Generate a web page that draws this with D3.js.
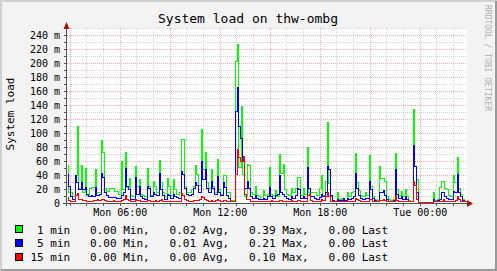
<!DOCTYPE html>
<html>
<head>
<meta charset="utf-8">
<script src="https://cdn.jsdelivr.net/npm/d3@7"></script>
<style>
  html, body { margin: 0; padding: 0; background: #f3f3f3; }
  svg { display: block; }
  text { font-family: "DejaVu Sans Mono", monospace; white-space: pre; }
</style>
</head>
<body>
<div id="chart"></div>
<script>
// system load, milli units, one value per 7.2 min bucket (24h)
const load1 = [
  53,14,15,8,39,109,20,53,14,48, 10,20,22,22,47,14,14,88,71,20,
  16,20,20,20,16,16,12,59,18,72, 21,34,10,8,52,23,33,12,10,8,
  48,23,10,30,23,14,60,28,15,8, 34,23,10,33,18,12,14,90,90,23,
  14,14,18,23,53,40,25,104,47,72, 28,20,47,23,15,62,18,12,39,38,
  15,14,3,3,202,226,50,137,40,8, 55,53,15,12,23,10,8,5,17,10,
  12,50,12,10,17,8,69,42,54,18, 12,10,20,14,20,35,35,10,20,12,
  79,15,15,15,15,10,20,38,10,30, 114,27,8,3,2,15,4,6,5,3,
  15,8,15,16,70,28,17,10,8,14, 10,67,23,8,4,3,52,34,34,30,
  8,4,3,5,70,18,10,16,8,18, 8,3,2,133,52,33,0,0,0,0,
  0,0,0,14,3,5,21,30,30,20, 18,10,8,38,28,64,20,12,4,2
];
const load5 = [
  40,23,8,5,39,28,18,28,18,22, 12,8,10,8,22,10,12,41,35,15,
  10,7,7,7,7,6,6,10,15,48, 23,19,5,4,35,12,23,8,6,5,
  23,20,8,15,12,10,42,18,10,5, 12,10,6,12,8,7,6,45,40,20,
  12,10,12,20,28,25,15,59,33,47, 20,15,30,20,12,37,15,10,28,22,
  10,6,2,2,130,164,109,92,59,20, 30,20,8,6,10,6,5,5,6,5,
  8,21,8,6,10,12,38,15,12,8, 6,5,8,6,10,20,18,6,8,6,
  50,20,8,8,6,5,7,12,8,15, 51,47,10,3,2,5,3,3,6,3,
  6,5,6,8,42,20,10,6,5,6, 6,30,18,6,3,2,14,14,17,10,
  4,2,2,3,47,12,6,8,5,8, 4,2,2,81,52,14,0,0,0,0,
  0,0,0,5,2,3,5,14,15,8, 6,5,4,16,14,40,15,8,3,2
];
const load15 = [
  7,3,2,2,10,13,5,4,3,3, 2,2,2,3,3,5,3,4,5,3,
  2,2,2,3,2,1,2,3,4,10, 4,3,2,2,4,3,3,2,2,2,
  3,3,2,2,3,2,3,4,2,2, 2,2,2,2,2,2,2,13,10,4,
  3,2,2,3,3,3,5,8,7,5, 3,2,3,2,3,4,3,2,3,3,
  2,2,1,1,40,76,64,59,66,12, 5,4,2,2,2,2,2,2,2,2,
  2,2,3,2,2,2,3,3,2,2, 2,2,3,2,2,3,3,2,2,2,
  10,12,3,2,2,2,2,5,3,8, 15,8,2,1,1,1,1,1,2,1,
  2,2,2,2,6,5,3,2,2,2, 2,4,4,2,1,1,3,3,4,3,
  2,1,1,1,10,3,2,2,2,2, 2,1,1,30,25,5,0,0,0,0,
  0,0,0,1,1,1,2,2,4,2, 2,2,2,2,3,8,4,2,1,1
];
const seriesNames = ["1 min", "5 min", "15 min"];
const seriesColors = ["#00ff00", "#0000ff", "#ff0000"];
const legendStats = [
  ["0.00", "0.02", "0.39", "0.00"],
  ["0.00", "0.01", "0.21", "0.00"],
  ["0.00", "0.00", "0.10", "0.00"]
];
const yTicks = [0, 20, 40, 60, 80, 100, 120, 140, 160, 180, 200, 220, 240];
const xTickLabels = ["Mon 06:00", "Mon 12:00", "Mon 18:00", "Tue 00:00"];

const width = 497, height = 271;
const startTime = new Date(2024, 0, 1, 2, 50);   // a Monday
const stepMs = 7.2 * 60 * 1000;
const endTime = new Date(+startTime + 24 * 3600 * 1000);

const x = d3.scaleTime().domain([startTime, endTime]).range([67, 467]);
const y = d3.scaleLinear().domain([0, 250]).range([203, 28]);

const svg = d3.select("#chart").append("svg")
  .attr("width", width).attr("height", height);

// frame
svg.append("rect").attr("width", width).attr("height", height).attr("fill", "#f3f3f3");
svg.append("path").attr("d", `M1,${height} V1 H${width}`).attr("stroke", "#d0d0d0").attr("stroke-width", 2).attr("fill", "none");
svg.append("path").attr("d", `M1,${height - 1} H${width - 1} V1`).attr("stroke", "#9a9a9a").attr("stroke-width", 2).attr("fill", "none");

// canvas
svg.append("rect").attr("x", 67).attr("y", 28).attr("width", 400).attr("height", 175).attr("fill", "#fff");

// grid (dotted, 1px on / 1px off)
const grid = svg.append("g");
d3.range(10, 251, 10).forEach(v => {
  const major = v % 20 === 0;
  grid.append("line")
    .attr("x1", 67).attr("x2", 467)
    .attr("y1", Math.round(y(v)) + 0.5).attr("y2", Math.round(y(v)) + 0.5)
    .attr("stroke", major ? "#e8b0b0" : "#d4d4d4")
    .attr("stroke-dasharray", "1,1");
});
const hours = d3.timeHour.range(startTime, endTime);
hours.forEach(t => {
  const major = t.getHours() % 3 === 0;
  const px = Math.round(x(t)) + 0.5;
  grid.append("line")
    .attr("x1", px).attr("x2", px).attr("y1", 28).attr("y2", 203)
    .attr("stroke", major ? "#e8b0b0" : "#d4d4d4")
    .attr("stroke-dasharray", "1,1");
});

// series: rrdtool-style steps, each bucket 2px wide, drops happen inside the bucket
const timeAt = i => new Date(+startTime + i * stepMs);
const Y = v => Math.round(y(v)) - 0.5;
function stepPoints(vals) {
  const pts = [];
  vals.forEach((v, i) => {
    const x0 = Math.round(x(timeAt(i))) + 0.5;
    const x1 = x0 + 1;
    pts.push([x0, Y(v)], [x1, Y(v)]);
    if (i < vals.length - 1) {
      const nv = vals[i + 1];
      const xn = Math.round(x(timeAt(i + 1))) + 0.5;
      if (nv < v) pts.push([x1, Y(nv)]);
      else pts.push([xn, Y(v)]);
    }
  });
  return pts;
}
const line = d3.line();

[load1, load5, load15].forEach((vals, k) => {
  svg.append("path")
    .datum(stepPoints(vals))
    .attr("d", line)
    .attr("fill", "none")
    .attr("stroke", seriesColors[k])
    .attr("stroke-width", 1)
    .attr("shape-rendering", "crispEdges");
});

// axes
const axisG = svg.append("g").attr("shape-rendering", "crispEdges");
axisG.append("line").attr("x1", 63).attr("x2", 469).attr("y1", 203.5).attr("y2", 203.5).attr("stroke", "#555");
axisG.append("line").attr("x1", 66.5).attr("x2", 66.5).attr("y1", 206).attr("y2", 26).attr("stroke", "#555");
d3.range(0, 250, 10).forEach(v => {
  axisG.append("line").attr("x1", 64).attr("x2", 67)
    .attr("y1", Math.round(y(v)) + 0.5).attr("y2", Math.round(y(v)) + 0.5).attr("stroke", "#555");
});
hours.forEach(t => {
  const px = Math.round(x(t)) + 0.5;
  axisG.append("line").attr("x1", px).attr("x2", px).attr("y1", 203).attr("y2", 206).attr("stroke", "#555");
});
// arrows
svg.append("path").attr("d", "M467,200 L473,203.5 L467,207 Z").attr("fill", "#a01010");
svg.append("path").attr("d", "M63.5,29 L66.5,22 L69.5,29 Z").attr("fill", "#a01010");

// y labels
svg.append("g").selectAll("text").data(yTicks).join("text")
  .attr("x", 60).attr("y", d => y(d) + 3.5)
  .attr("text-anchor", "end")
  .attr("font-size", 10)
  .attr("fill", "#000")
  .text(d => d === 0 ? "0" : d + " m");

// x labels
const fmt = d3.timeFormat("%a %H:%M");
const xTicks = hours.filter(t => t.getHours() % 6 === 0);
svg.append("g").selectAll("text").data(xTicks).join("text")
  .attr("x", d => x(d) + 0.5).attr("y", 216)
  .attr("text-anchor", "middle")
  .attr("font-size", 10)
  .text((d, i) => xTickLabels[i] || fmt(d));

// title
svg.append("text").attr("x", 248).attr("y", 23)
  .attr("text-anchor", "middle").attr("font-size", 13)
  .text("System load on thw-ombg");

// y title
svg.append("text").attr("transform", "translate(14,114) rotate(-90)")
  .attr("text-anchor", "middle").attr("font-size", 11)
  .text("System load");

// watermark
svg.append("text").attr("transform", "translate(485,5) rotate(90)")
  .attr("font-size", 8).attr("fill", "#b0b0b0")
  .text("RRDTOOL / TOBI OETIKER");

// legend
const legend = svg.append("g");
seriesNames.forEach((name, k) => {
  const base = 233.5 + k * 13.8;
  legend.append("rect")
    .attr("x", 15.5).attr("y", Math.round(base - 8.5) + 0.5).attr("width", 7).attr("height", 7)
    .attr("fill", seriesColors[k]).attr("stroke", "#000").attr("shape-rendering", "crispEdges");
  const s = legendStats[k];
  const label = name.padStart(6, " ") + "   " + s[0] + " Min,   " + s[1] + " Avg,   " + s[2] + " Max,   " + s[3] + " Last";
  legend.append("text").attr("x", 30.5).attr("y", base)
    .attr("font-size", 11).text(label);
});
</script>
</body>
</html>
